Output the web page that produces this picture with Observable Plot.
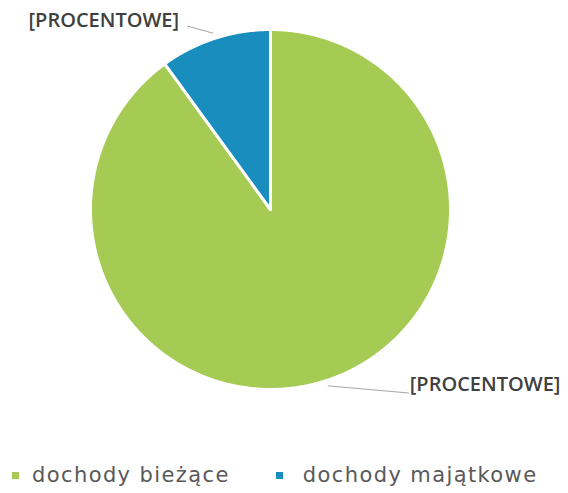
<!DOCTYPE html>
<html>
<head>
<meta charset="utf-8">
<script src="https://cdn.jsdelivr.net/npm/d3@7"></script>
<script src="https://cdn.jsdelivr.net/npm/@observablehq/plot@0.6"></script>
<style>
  body { margin: 0; background: #fff; }
  #wrap { width: 568px; height: 493px; position: relative; overflow: hidden; }
  .legend { position: absolute; top: 463px; left: 12px; display: flex; align-items: center;
            font-family: "DejaVu Sans", sans-serif; font-size: 21px; color: #595959; letter-spacing: 1.4px; }
  .legend .item { display: flex; align-items: center; }
  .legend .sw { width: 7px; height: 7px; }
</style>
</head>
<body>
<div id="wrap"></div>
<script>
const categories = ["dochody bieżące", "dochody majątkowe"];
const values = [90, 10];
const labels = ["[PROCENTOWE]", "[PROCENTOWE]"];
const colors = ["#a6cb54", "#1a8dbf"];

const arcs = d3.pie().sort(null).value(d => d.value)(
  categories.map((name, i) => ({ name, value: values[i], label: labels[i] }))
);

// polygon outline of each slice (sampled along the arc), in unit-circle coordinates
const poly = [];
arcs.forEach(a => {
  const n = Math.max(2, Math.ceil((a.endAngle - a.startAngle) / 0.01));
  poly.push({ name: a.data.name, x: 0, y: 0 });
  for (let k = 0; k <= n; k++) {
    const t = a.startAngle + (a.endAngle - a.startAngle) * k / n;
    poly.push({ name: a.data.name, x: Math.sin(t), y: Math.cos(t) });
  }
});

// label leader lines
const leaderShift = { "dochody bieżące": [0.45, -0.04], "dochody majątkowe": [-0.145, 0.04] };
const lab = arcs.map(a => {
  const m = (a.startAngle + a.endAngle) / 2;
  const ex = Math.sin(m) * 1.03, ey = Math.cos(m) * 1.03;
  const s = leaderShift[a.data.name];
  return { name: a.data.name, label: a.data.label, x1: ex, y1: ey, x2: ex + s[0], y2: ey + s[1], right: Math.sin(m) > 0 };
});

const chart = Plot.plot({
  width: 568,
  height: 420,
  marginLeft: 90,
  marginRight: 118,
  marginTop: 29,
  marginBottom: 31,
  x: { domain: [-1, 1], axis: null },
  y: { domain: [-1, 1], axis: null },
  color: { domain: categories, range: colors },
  marks: [
    Plot.line(poly, { x: "x", y: "y", z: "name", fill: "name", stroke: "white", strokeWidth: 3, curve: "linear-closed" }),
    Plot.link(lab, { x1: "x1", y1: "y1", x2: "x2", y2: "y2", stroke: "#a6a6a6", strokeWidth: 1 }),
    Plot.text(lab.filter(d => d.right), { x: "x2", y: "y2", text: "label", textAnchor: "start", dx: 1, dy: -8,
      fontFamily: "Open Sans", fontWeight: 600, fontSize: 20, fill: "#404040" }),
    Plot.text(lab.filter(d => !d.right), { x: "x2", y: "y2", text: "label", textAnchor: "end", dx: -8, dy: -5,
      fontFamily: "Open Sans", fontWeight: 600, fontSize: 20, fill: "#404040" })
  ]
});

const wrap = document.getElementById("wrap");
wrap.appendChild(chart);

const legend = document.createElement("div");
legend.className = "legend";
categories.forEach((c, i) => {
  const it = document.createElement("div");
  it.className = "item";
  it.style.marginRight = i === 0 ? "46px" : "0";
  const sw = document.createElement("span");
  sw.className = "sw";
  sw.style.background = colors[i];
  sw.style.marginRight = i === 0 ? "13px" : "20px";
  const tx = document.createElement("span");
  tx.textContent = c;
  it.appendChild(sw); it.appendChild(tx);
  legend.appendChild(it);
});
wrap.appendChild(legend);
</script>
</body>
</html>
